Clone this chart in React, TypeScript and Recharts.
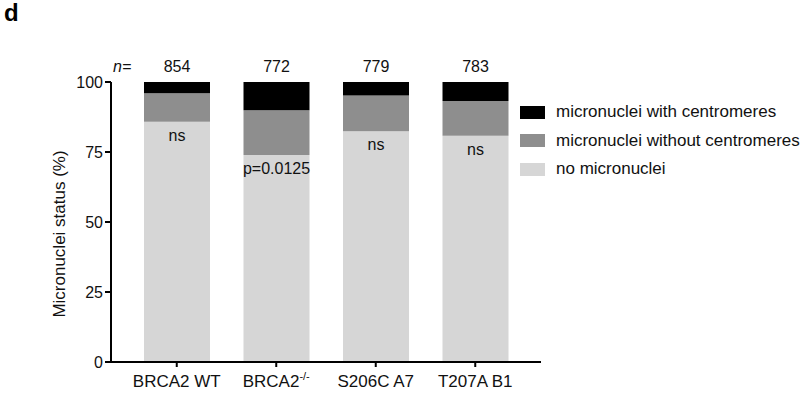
import React from 'react';
import { BarChart, Bar, XAxis, YAxis, LabelList, Label } from 'recharts';

const categories = ['BRCA2 WT', 'BRCA2', 'S206C A7', 'T207A B1'];
const categorySuperscripts = ['', '-/-', '', ''];
const noMicronuclei = [85.8, 73.9, 82.4, 80.8];
const withoutCentromeres = [10.2, 16.0, 12.8, 12.4];
const withCentromeres = [4.0, 10.1, 4.8, 6.8];
const nValues = [854, 772, 779, 783];
const annotations = ['ns', 'p=0.0125', 'ns', 'ns'];
const yTicks = [0, 25, 50, 75, 100];

const seriesNames = {
  with: 'micronuclei with centromeres',
  without: 'micronuclei without centromeres',
  none: 'no micronuclei',
};
const colors = { with: '#000000', without: '#8e8e8e', none: '#d6d6d6' };

const data = categories.map((c, i) => ({
  name: c,
  sup: categorySuperscripts[i],
  none: noMicronuclei[i],
  without: withoutCentromeres[i],
  with: withCentromeres[i],
  n: nValues[i],
  annot: annotations[i],
}));

const FONT = '"Liberation Sans", Arial, sans-serif';
const TEXT = '#111';

const CategoryTick = (props: any) => {
  const { x, y, payload } = props;
  const d = data[payload.index];
  return (
    <text x={x} y={y + 18} textAnchor="middle" fontSize={17} fill={TEXT} fontFamily={FONT}>
      {d.name}
      {d.sup ? (
        <tspan fontSize={11} dy={-7}>
          {d.sup}
        </tspan>
      ) : null}
    </text>
  );
};

const AnnotLabel = (props: any) => {
  const { x, y, width, index } = props;
  return (
    <text x={x + width / 2} y={y + 19} textAnchor="middle" fontSize={16} fill={TEXT} fontFamily={FONT}>
      {annotations[index]}
    </text>
  );
};

const NLabel = (props: any) => {
  const { x, y, width, index } = props;
  return (
    <text x={x + width / 2} y={y - 10} textAnchor="middle" fontSize={16} fill={TEXT} fontFamily={FONT}>
      {nValues[index]}
    </text>
  );
};

const legendOrder: Array<'with' | 'without' | 'none'> = ['with', 'without', 'none'];

const LegendBox = () => (
  <div style={{ position: 'absolute', left: 520, top: 98, fontFamily: FONT }}>
    {legendOrder.map((k) => (
      <div key={k} style={{ display: 'flex', alignItems: 'center', height: 28.5 }}>
        <div style={{ width: 25, height: 13, background: colors[k], marginRight: 11 }} />
        <span style={{ fontSize: 17, color: TEXT, whiteSpace: 'nowrap' }}>{seriesNames[k]}</span>
      </div>
    ))}
  </div>
);

const YLabel = (props: any) => {
  const vb = props.viewBox;
  const cx = vb.x + 65;
  const cy = vb.y + vb.height / 2 + 12;
  return (
    <text
      x={cx}
      y={cy}
      transform={`rotate(-90, ${cx}, ${cy})`}
      textAnchor="middle"
      fontSize={17}
      fill={TEXT}
      fontFamily={FONT}
    >
      Micronuclei status (%)
    </text>
  );
};

const NEqLabel = (props: any) => {
  const vb = props.viewBox;
  return (
    <text x={vb.x + vb.width + 2} y={vb.y - 10} fontSize={16} fontStyle="italic" fill={TEXT} fontFamily={FONT}>
      n=
    </text>
  );
};

export default function App() {
  return (
    <div style={{ position: 'absolute', left: 0, top: 0, width: 803, height: 394, background: '#fff' }}>
      <div
        style={{
          position: 'absolute',
          left: 4,
          top: 1,
          fontFamily: FONT,
          fontWeight: 'bold',
          fontSize: 24,
          lineHeight: '24px',
          color: '#000',
        }}
      >
        d
      </div>
      <BarChart
        width={803}
        height={394}
        data={data}
        margin={{ top: 82, right: 262, bottom: 2, left: 0 }}
        style={{ fontFamily: FONT }}
      >
        <XAxis
          dataKey="name"
          height={30}
          padding={{ left: 16, right: 16 }}
          axisLine={{ stroke: '#000', strokeWidth: 2 }}
          tickLine={{ stroke: '#000', strokeWidth: 2 }}
          tickSize={5}
          tick={<CategoryTick />}
          interval={0}
        />
        <YAxis
          width={111}
          domain={[0, 100]}
          ticks={yTicks}
          axisLine={{ stroke: '#000', strokeWidth: 2 }}
          tickLine={{ stroke: '#000', strokeWidth: 2 }}
          tickSize={6}
          tick={{ fontSize: 16, fill: TEXT, fontFamily: FONT }}
          allowDataOverflow
        >
          <Label content={<YLabel />} />
          <Label content={<NEqLabel />} />
        </YAxis>
        <Bar dataKey="none" stackId="a" fill={colors.none} barSize={66} isAnimationActive={false}>
          <LabelList dataKey="annot" content={<AnnotLabel />} />
        </Bar>
        <Bar dataKey="without" stackId="a" fill={colors.without} barSize={66} isAnimationActive={false} />
        <Bar dataKey="with" stackId="a" fill={colors.with} barSize={66} isAnimationActive={false}>
          <LabelList dataKey="n" content={<NLabel />} />
        </Bar>
      </BarChart>
      <LegendBox />
    </div>
  );
}
